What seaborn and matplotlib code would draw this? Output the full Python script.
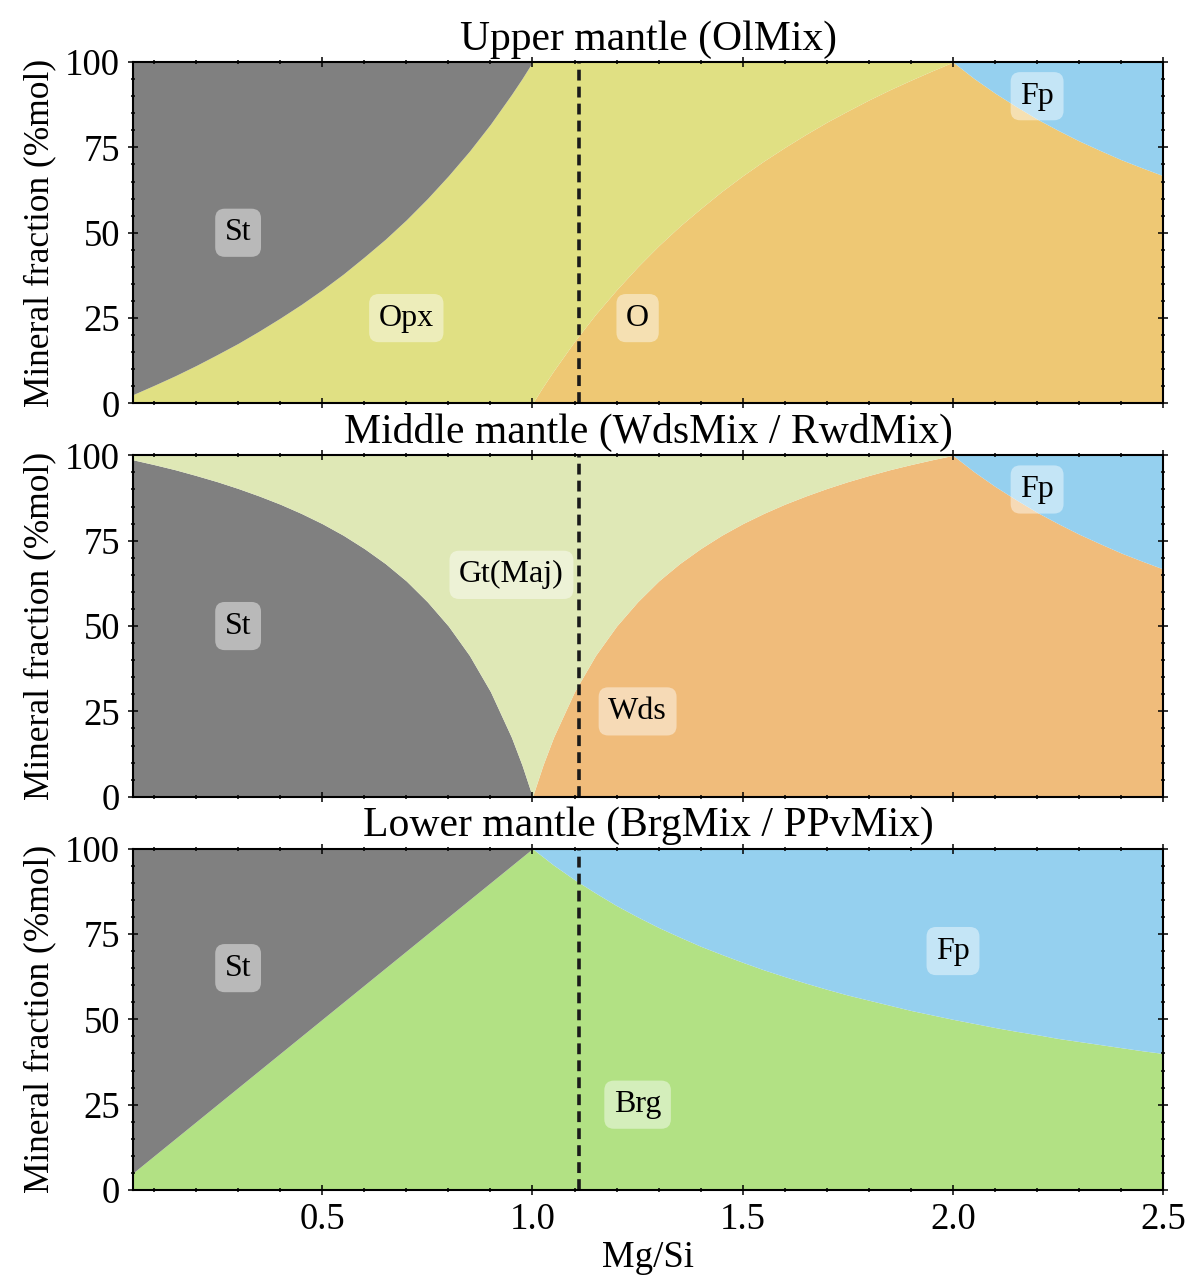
import numpy as np
import matplotlib
matplotlib.use("Agg")
import matplotlib.pyplot as plt
from matplotlib.ticker import MultipleLocator
import seaborn as sns

# Mg/Si sampling points
mg_si = [0.05, 0.1, 0.15, 0.2, 0.25, 0.3, 0.35, 0.4, 0.45, 0.5,
         0.55, 0.6, 0.65, 0.7, 0.75, 0.8, 0.85, 0.9, 0.95, 0.975,
         1.0,
         1.025, 1.05, 1.1, 1.15, 1.2, 1.25, 1.3, 1.35, 1.4, 1.45, 1.5,
         1.55, 1.6, 1.65, 1.7, 1.75, 1.8, 1.85, 1.9, 1.95, 2.0,
         2.05, 2.1, 2.15, 2.2, 2.25, 2.3, 2.35, 2.4, 2.45, 2.5]

# upper mantle (%mol)
up_ol = [0] * 21 + [4.9, 9.5, 18.2, 26.1, 33.3, 40.0, 46.2, 51.9, 57.1, 62.1, 66.7,
                    71.0, 75.0, 78.8, 82.4, 85.7, 88.9, 91.9, 94.7, 97.4, 100,
                    95.2, 90.9, 87.0, 83.3, 80.0, 76.9, 74.1, 71.4, 69.0, 66.7]
up_opx = [2.6, 5.3, 8.1, 11.1, 14.3, 17.6, 21.2, 25.0, 29.0, 33.3,
          37.9, 42.9, 48.1, 53.8, 60.0, 66.7, 73.9, 81.8, 90.5, 95.1,
          100,
          95.1, 90.5, 81.8, 73.9, 66.7, 60.0, 53.8, 48.1, 42.9, 37.9, 33.3,
          29.0, 25.0, 21.2, 17.6, 14.3, 11.1, 8.1, 5.3, 2.6, 0] + [0] * 10
up_st = [97.4, 94.7, 91.9, 88.9, 85.7, 82.4, 78.8, 75.0, 71.0, 66.7,
         62.1, 57.1, 51.9, 46.2, 40.0, 33.3, 26.1, 18.2, 9.5, 4.9] + [0] * 32
up_fp = [0] * 42 + [4.8, 9.1, 13.0, 16.7, 20.0, 23.1, 25.9, 28.6, 31.0, 33.3]

# middle mantle (%mol)
mid_wds = [0] * 21 + [9.3, 17.4, 30.8, 41.4, 50.0, 57.1, 63.2, 68.3, 72.7, 76.6, 80.0,
                      83.0, 85.7, 88.1, 90.3, 92.3, 94.1, 95.8, 97.3, 98.7, 100,
                      95.2, 90.9, 87.0, 83.3, 80.0, 76.9, 74.1, 71.4, 69.0, 66.7]
mid_st = [98.7, 97.3, 95.8, 94.1, 92.3, 90.3, 88.1, 85.7, 83.0, 80.0,
          76.6, 72.7, 68.3, 63.2, 57.1, 50.0, 41.4, 30.8, 17.4, 9.3] + [0] * 32
mid_gt = [1.3, 2.7, 4.2, 5.9, 7.7, 9.7, 11.9, 14.3, 17.0, 20.0,
          23.4, 27.3, 31.7, 36.8, 42.9, 50.0, 58.6, 69.2, 82.6, 90.7,
          100,
          90.7, 82.6, 69.2, 58.6, 50.0, 42.9, 36.8, 31.7, 27.3, 23.4, 20.0,
          17.0, 14.3, 11.9, 9.7, 7.7, 5.9, 4.2, 2.7, 1.3, 0] + [0] * 10
mid_fp = [0] * 42 + [4.8, 9.1, 13.0, 16.7, 20.0, 23.1, 25.9, 28.6, 31.0, 33.3]

# lower mantle (%mol)
low_brg = [5, 10, 15, 20, 25, 30, 35, 40, 45, 50,
           55, 60, 65, 70, 75, 80, 85, 90, 95, 97.5,
           100,
           97.6, 95.2, 90.9, 87.0, 83.3, 80.0, 76.9, 74.1, 71.4, 69.0, 66.7,
           64.5, 62.5, 60.6, 58.8, 57.1, 55.6, 54.1, 52.6, 51.3, 50.0,
           48.8, 47.6, 46.5, 45.5, 44.4, 43.5, 42.6, 41.7, 40.8, 40.0]
low_st = [95, 90, 85, 80, 75, 70, 65, 60, 55, 50,
          45, 40, 35, 30, 25, 20, 15, 10, 5, 2.5] + [0] * 32
low_fp = [0] * 21 + [2.4, 4.8, 9.1, 13.0, 16.7, 20.0, 23.1, 25.9, 28.6, 31.0, 33.3,
                     35.5, 37.5, 39.4, 41.2, 42.9, 44.4, 45.9, 47.4, 48.7, 50.0,
                     51.2, 52.4, 53.5, 54.5, 55.6, 56.5, 57.4, 58.3, 59.2, 60.0]

earth_mg_si = 1.11

c_st = '#808080'
c_opx = '#e0e083'
c_ol = '#eec874'
c_fp = '#95d0ef'
c_gt = '#dfe8b6'
c_wds = '#f0bc7b'
c_brg = '#b2e184'

sns.set_theme(style='ticks')
plt.rcParams['font.family'] = ['Liberation Serif', 'DejaVu Serif']
plt.rcParams.update({'axes.linewidth': 1.5, 'text.color': 'black', 'axes.labelcolor': 'black',
                     'xtick.color': 'black', 'ytick.color': 'black', 'axes.edgecolor': 'black'})

fig, axes = plt.subplots(3, 1, figsize=(11.98, 12.77), dpi=100, sharex=True)
fig.subplots_adjust(left=0.111, right=0.971, top=0.9514, bottom=0.0681, hspace=0.152)

panels = [
    ("Upper mantle (OlMix)", [up_ol, up_opx, up_st, up_fp], [c_ol, c_opx, c_st, c_fp],
     [("St", 0.3, 50), ("Opx", 0.7, 25), ("O", 1.25, 25), ("Fp", 2.2, 90)]),
    ("Middle mantle (WdsMix / RwdMix)", [mid_wds, mid_st, mid_gt, mid_fp], [c_wds, c_st, c_gt, c_fp],
     [("St", 0.3, 50), ("Gt(Maj)", 0.95, 65), ("Wds", 1.25, 25), ("Fp", 2.2, 90)]),
    ("Lower mantle (BrgMix / PPvMix)", [low_brg, low_st, low_fp], [c_brg, c_st, c_fp],
     [("St", 0.3, 65), ("Brg", 1.25, 25), ("Fp", 2.0, 70)]),
]

for ax, (title, series, cols, labels) in zip(axes, panels):
    ax.set_axisbelow(False)
    ax.stackplot(mg_si, *series, colors=cols, linewidth=0)
    ax.axvline(earth_mg_si, color='k', ls=(0, (3.0, 1.7)), lw=2.6)
    for txt, xx, yy in labels:
        ax.text(xx, yy, txt, ha='center', va='center', fontsize=23,
                bbox=dict(boxstyle='round,pad=0.3', facecolor='white', alpha=0.45, edgecolor='none'))
    ax.set_title(title, fontsize=30, pad=9)
    ax.set_xlim(0.05, 2.5)
    ax.set_ylim(0, 100)
    ax.set_yticks([0, 25, 50, 75, 100])
    ax.xaxis.set_minor_locator(MultipleLocator(0.1))
    ax.yaxis.set_minor_locator(MultipleLocator(5))
    ax.tick_params(which='both', direction='inout', top=True, right=True, labelsize=26.5, width=1.1)
    ax.tick_params(which='major', length=6.5, pad=6)
    ax.tick_params(which='minor', length=3.5)
    ax.set_ylabel("Mineral fraction (%mol)", fontsize=25.5, labelpad=6)

axes[-1].set_xticks([0.5, 1.0, 1.5, 2.0, 2.5])
axes[-1].set_xlabel("Mg/Si", fontsize=26.5, labelpad=2)

plt.savefig('out.png', dpi=100)
